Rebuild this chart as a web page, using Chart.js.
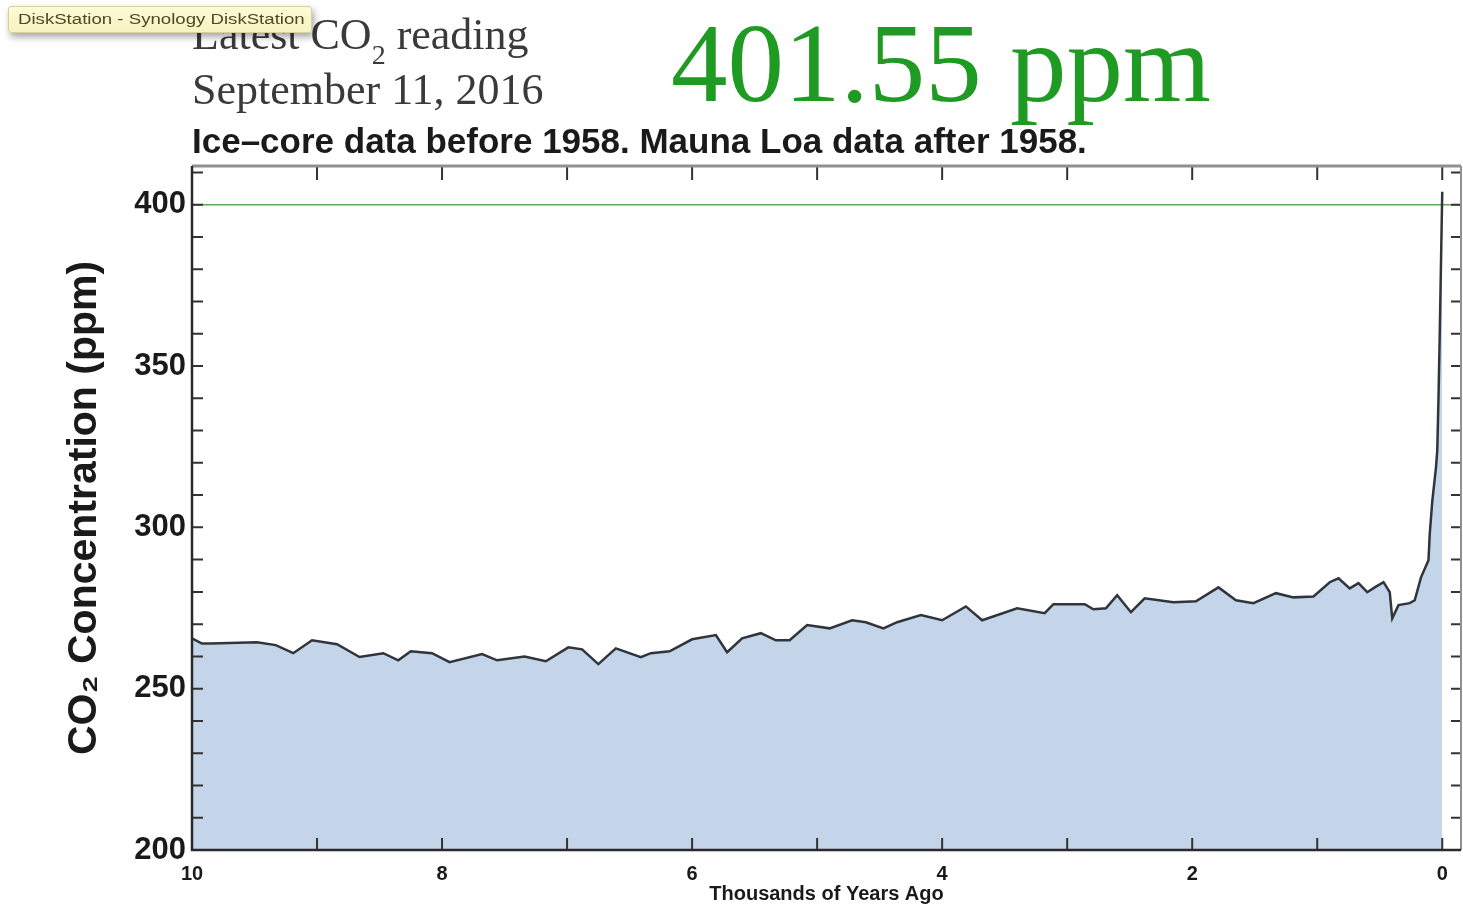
<!DOCTYPE html>
<html>
<head>
<meta charset="utf-8">
<script src="https://cdn.jsdelivr.net/npm/chart.js@4.4.1/dist/chart.umd.min.js"></script>
<style>
    body { margin: 0; background: #fff; }
    #wrap { position: relative; width: 1463px; height: 906px; overflow: hidden; }
    #chartBox { position: absolute; left: 0; top: 0; width: 1463px; height: 906px; }
    .hd { position: absolute; white-space: nowrap; line-height: 1; }
    .serif { font-family: 'Liberation Serif', 'Times New Roman', serif; color: #3a3a3a; }
    .sub2 { position: relative; top: 15px; font-size: 28px; }
    #tip {
        position: absolute; left: 8px; top: 6px; width: 304px; height: 27px;
        background: linear-gradient(#fdfbd8, #f6f2c0);
        border: 1px solid #d6d09a; border-radius: 3px;
        box-shadow: 2px 4px 7px rgba(0,0,0,0.35);
        font: 14px 'Liberation Sans', Arial, sans-serif; color: #4b4a22;
        line-height: 25px; padding-left: 9px; box-sizing: border-box; z-index: 5;
    }
    #tip span { display: inline-block; transform: scaleX(1.33); transform-origin: left center; }
</style>
</head>
<body>
<div id="wrap">
    <div id="chartBox"><canvas id="myChart"></canvas></div>
    <div class="hd serif" style="left:192px; top:13px; font-size:44px;">Latest CO<span class="sub2">2</span> reading</div>
    <div class="hd serif" style="left:192px; top:68px; font-size:44px;">September 11, 2016</div>
    <div class="hd serif" style="left:671px; top:6px; font-size:113px; color:#1f9a22;">401.55 ppm</div>
    <div class="hd" style="left:192px; top:121px; font: bold 35px 'Liberation Sans', Arial, sans-serif; color:#1a1a1a;">Ice–core data before 1958. Mauna Loa data after 1958.</div>
    <div id="tip"><span>DiskStation - Synology DiskStation</span></div>
</div>
<script>
'use strict';

// thousands of years ago
const kyrAgo = [
    10.00, 9.92, 9.85, 9.48, 9.33, 9.19, 9.04, 8.84, 8.66, 8.47,
    8.35, 8.25, 8.08, 7.94, 7.68, 7.56, 7.34, 7.17, 6.99, 6.88,
    6.75, 6.61, 6.41, 6.33, 6.18, 6.00, 5.81, 5.72, 5.60, 5.45,
    5.33, 5.22, 5.08, 4.90, 4.72, 4.61, 4.47, 4.36, 4.17, 4.00,
    3.81, 3.68, 3.40, 3.18, 3.11, 2.86, 2.79, 2.69, 2.60, 2.49,
    2.38, 2.15, 1.97, 1.79, 1.65, 1.51, 1.33, 1.19, 1.03, 0.90,
    0.83, 0.74, 0.67, 0.60, 0.54, 0.47, 0.42, 0.40, 0.35, 0.26,
    0.22, 0.17, 0.11, 0.10, 0.08, 0.05, 0.04, 0.03, 0.02, 0.01,
    0.00
];
// CO2 concentration, ppm
const co2Ppm = [
    265.6, 264.0, 264.0, 264.4, 263.5, 261.0, 265.0, 263.8, 259.8, 261.0,
    258.8, 261.6, 261.0, 258.2, 260.7, 258.8, 260.0, 258.5, 262.8, 262.2,
    257.6, 262.5, 259.8, 261.0, 261.6, 265.3, 266.6, 261.3, 265.6, 267.2,
    265.0, 265.0, 269.7, 268.7, 271.2, 270.6, 268.7, 270.6, 272.8, 271.2,
    275.5, 271.2, 274.9, 273.4, 276.2, 276.2, 274.6, 274.9, 279.0, 273.7,
    278.0, 276.8, 277.1, 281.4, 277.4, 276.5, 279.6, 278.3, 278.6, 283.0,
    284.2, 281.1, 282.7, 279.9, 281.4, 283.0, 279.9, 271.8, 275.9, 276.5,
    277.4, 284.5, 289.8, 298.0, 308.0, 318.6, 323.8, 340.0, 360.0, 382.0,
    404.0
];
const referenceLevel = 400;
const xTickLabels = [10, 8, 6, 4, 2, 0];
const yTickLabels = [200, 250, 300, 350, 400];

const curve = kyrAgo.map((k, i) => ({ x: k, y: co2Ppm[i] }));
const refLine = [{ x: 10, y: referenceLevel }, { x: -0.15, y: referenceLevel }];

// inward tick marks and the frame round the plot
const framePlugin = {
    id: 'frame',
    afterDatasetsDraw(chart) {
        const { ctx, chartArea: a, scales: { x, y } } = chart;
        ctx.save();
        ctx.strokeStyle = '#333';
        ctx.lineWidth = 2;
        ctx.beginPath();
        for (let v = 0; v <= 10; v++) {
            const px = x.getPixelForValue(v);
            ctx.moveTo(px, a.bottom); ctx.lineTo(px, a.bottom - 12);
            ctx.moveTo(px, a.top); ctx.lineTo(px, a.top + 14);
        }
        for (let v = 200; v <= 410; v += 10) {
            const py = y.getPixelForValue(v);
            ctx.moveTo(a.left, py); ctx.lineTo(a.left + 11, py);
            ctx.moveTo(a.right, py); ctx.lineTo(a.right - 10, py);
        }
        ctx.stroke();

        ctx.strokeStyle = '#909090';
        ctx.lineWidth = 3;
        ctx.beginPath();
        ctx.moveTo(a.left, a.top); ctx.lineTo(a.right, a.top);
        ctx.stroke();
        ctx.lineWidth = 2;
        ctx.beginPath();
        ctx.moveTo(a.right, a.top); ctx.lineTo(a.right, a.bottom);
        ctx.stroke();

        ctx.strokeStyle = '#2a2a2a';
        ctx.lineWidth = 2.5;
        ctx.beginPath();
        ctx.moveTo(a.left, a.top); ctx.lineTo(a.left, a.bottom); ctx.lineTo(a.right, a.bottom);
        ctx.stroke();
        ctx.restore();
    }
};

const ctx = document.getElementById('myChart').getContext('2d');
const myChart = new Chart(ctx, {
    type: 'line',
    data: {
        datasets: [{
            label: 'CO2',
            data: curve,
            borderColor: '#30353b',
            borderWidth: 2.5,
            backgroundColor: '#c4d5ea',
            fill: 'start',
            pointRadius: 0,
            tension: 0
        }, {
            label: 'latest',
            data: refLine,
            borderColor: '#5fa65f',
            borderWidth: 1.5,
            pointRadius: 0,
            fill: false
        }]
    },
    options: {
        responsive: true,
        maintainAspectRatio: false,
        animation: false,
        layout: { padding: { top: 166, right: 2, left: 0, bottom: 0 } },
        plugins: {
            legend: { display: false },
            tooltip: { enabled: false }
        },
        scales: {
            x: {
                type: 'linear',
                reverse: true,
                min: -0.15,
                max: 10,
                grid: { display: false, drawTicks: false },
                border: { display: false },
                afterBuildTicks: s => { s.ticks = xTickLabels.map(v => ({ value: v })); },
                afterFit: s => { s.height = 56; },
                ticks: {
                    autoSkip: false,
                    maxRotation: 0,
                    padding: 12,
                    color: '#1a1a1a',
                    font: { family: 'Liberation Sans', weight: 'bold', size: 20 }
                },
                title: {
                    display: true,
                    text: 'Thousands of Years Ago',
                    color: '#1a1a1a',
                    padding: { top: 0, bottom: 0 },
                    font: { family: 'Liberation Sans', weight: 'bold', size: 20 }
                }
            },
            y: {
                min: 200,
                max: 412,
                grid: { display: false, drawTicks: false },
                border: { display: false },
                afterBuildTicks: s => { s.ticks = yTickLabels.map(v => ({ value: v })); },
                afterFit: s => { s.width = 192; },
                ticks: {
                    padding: 6,
                    color: '#1a1a1a',
                    font: { family: 'Liberation Sans', weight: 'bold', size: 31 }
                },
                title: {
                    display: true,
                    text: 'CO₂ Concentration (ppm)',
                    color: '#1a1a1a',
                    padding: { top: 60, bottom: 0 },
                    font: { family: 'Liberation Sans', weight: 'bold', size: 41 }
                }
            }
        }
    },
    plugins: [framePlugin]
});
</script>
</body>
</html>
